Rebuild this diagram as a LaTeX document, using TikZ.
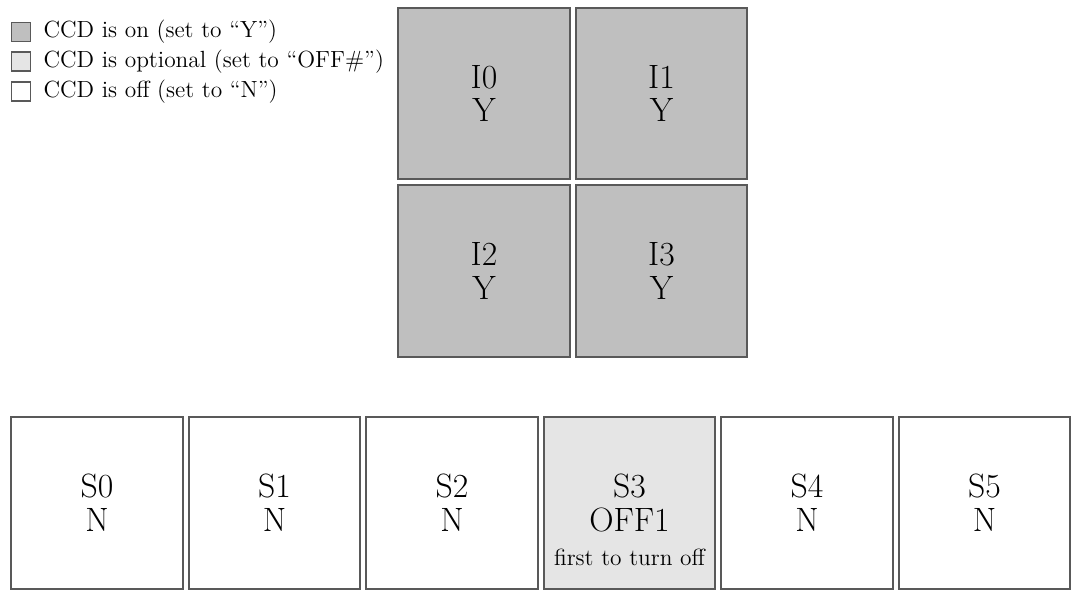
\documentclass[tikz,border=0pt]{standalone}
\usepackage{fontspec}
\usetikzlibrary{positioning}
\definecolor{ccdon}{gray}{0.75}
\definecolor{ccdopt}{gray}{0.9}

\begin{document}
\begin{tikzpicture}[
        x=0.0175cm, y=-0.0175cm,
        node distance=0.075cm,
        ccd/.style={draw=black!65, line width=0.9pt, minimum size=3cm, inner sep=0pt, align=center, font=\fontsize{16.8}{16.9}\selectfont},
        legbox/.style={draw=black!65, line width=0.9pt, minimum size=0.33cm, inner sep=0pt},
        legtext/.style={font=\fontsize{11.65}{14}\selectfont}
    ]
        \useasboundingbox (0,0) rectangle (1073,592);

        % legend
        \node[legbox, fill=ccdon] (legon) at (21,32) {};
        \node[legbox, fill=ccdopt, below=0.16cm of legon] (legopt) {};
        \node[legbox, fill=white, below=0.16cm of legopt] (legoff) {};
        \node[legtext, right=0.09cm of legon] (legontxt) {CCD is on (set to ``Y'')};
        \node[legtext, right=0.09cm of legopt] (legopttxt) {CCD is optional (set to ``OFF\#'')};
        \node[legtext, right=0.09cm of legoff] (legofftxt) {CCD is off (set to ``N'')};

        % imaging array
        \node[ccd, fill=ccdon] (i0) at (484,93.5) {I0\\Y};
        \node[ccd, fill=ccdon, right=of i0] (i1) {I1\\Y};
        \node[ccd, fill=ccdon, below=of i0] (i2) {I2\\Y};
        \node[ccd, fill=ccdon, right=of i2] (i3) {I3\\Y};

        % spectroscopy array
        \node[ccd, fill=white] (s0) at (97,503) {S0\\N};
        \node[ccd, fill=white, right=of s0] (s1) {S1\\N};
        \node[ccd, fill=white, right=of s1] (s2) {S2\\N};
        \node[ccd, fill=ccdopt, right=of s2] (s3) {S3\\OFF1};
        \node[ccd, fill=white, right=of s3] (s4) {S4\\N};
        \node[ccd, fill=white, right=of s4] (s5) {S5\\N};
        \node[legtext, anchor=base, inner sep=0pt] (s3note) at ([yshift=-1.085cm]s3.center) {first to turn off};
    \end{tikzpicture}
\end{document}
